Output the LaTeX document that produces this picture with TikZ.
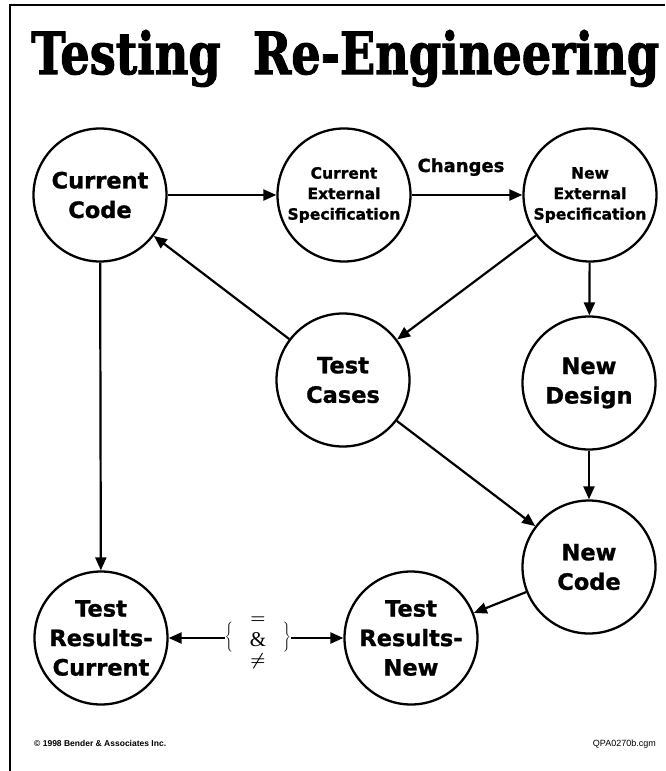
\documentclass[tikz,border=0pt]{standalone}
\usepackage{graphicx}
\usepackage{fontspec}
\setmainfont{DejaVu Sans}[BoldFeatures={FakeBold=1.2}]
\newfontfamily\titlefont{DejaVu Serif}[BoldFeatures={FakeBold=2}]
\newfontfamily\footfont{Liberation Sans}
\newfontfamily\ampfont{Liberation Serif}
\usetikzlibrary{arrows.meta}

\begin{document}
\begin{tikzpicture}[x=1pt,y=-1pt,
  state/.style={circle,draw,line width=2.3pt,minimum size=133pt,inner sep=0pt,
    align=center,font=\bfseries\fontsize{22.5}{29.5}\selectfont},
  spec/.style={state,font=\bfseries\fontsize{15.5}{20.5}\selectfont},
  flow/.style={line width=2.2pt,-{Triangle[length=13pt,width=11pt]}},
  brace/.style={inner sep=0pt,font=\boldmath\fontsize{13.5}{16}\selectfont},
  sym/.style={inner sep=0pt,font=\boldmath\fontsize{18}{20}\selectfont}]

\useasboundingbox (0,0) rectangle (665,771);

% page frame (left and top rules)
\draw[line width=2pt] (10,771) -- (10,5) -- (665,5);

% title
\node[anchor=base west,inner sep=0pt] (title) at (31,74)
  {\resizebox{628pt}{44pt}{\titlefont\bfseries Testing\ \ Re-Engineering}};

% process states
\node[state] (cc)  at (100,195) {Current\\Code};
\node[spec]  (ces) at (344,195) {Current\\External\\Specification};
\node[spec]  (nes) at (590,195) {New\\External\\Specification};
\node[state] (tc)  at (343,380) {Test\\Cases};
\node[state] (nd)  at (589,383) {New\\Design};
\node[state] (nc)  at (589,567) {New\\Code};
\node[state] (trc) at (101,638) {Test\\Results-\\Current};
\node[state] (trn) at (411,638) {Test\\Results-\\New};

\node[anchor=base,inner sep=0pt,font=\bfseries\fontsize{18}{20}\selectfont] (chg)
  at (461,172) {Changes};

% comparison brace
\node[brace] (lb) at (229,637) {$\Bigg\{$};
\node[brace] (rb) at (287,637) {$\Bigg\}$};
\node[sym] (s1) at (258,620) {$=$};
\node[inner sep=0pt,font=\ampfont\fontsize{21}{22}\selectfont] (s2) at (258,640) {\&};
\node[sym] (s3) at (258,661) {$\neq$};

% connectors
\draw[flow] (cc) -- (ces);
\draw[flow] (ces) -- (nes);
\draw[flow] (nes) -- (nd);
\draw[flow] (nes) -- (tc);
\draw[flow] (tc) -- (cc);
\draw[flow] (tc) -- (nc);
\draw[flow] (nd) -- (nc);
\draw[flow] (nc) -- (trn);
\draw[flow] (cc) -- (trc);
\draw[flow] (lb.west |- trc) -- (trc);
\draw[flow] (rb.east |- trn) -- (trn);

% footer
\node[anchor=base west,inner sep=0pt,font=\footfont\bfseries\fontsize{8.5}{9}\selectfont] (copy)
  at (34,746) {\textcopyright\ 1998 Bender \& Associates Inc.};
\node[anchor=base east,inner sep=0pt,font=\footfont\fontsize{9}{10}\selectfont] (ref)
  at (656,746) {QPA0270b.cgm};
\end{tikzpicture}
\end{document}
